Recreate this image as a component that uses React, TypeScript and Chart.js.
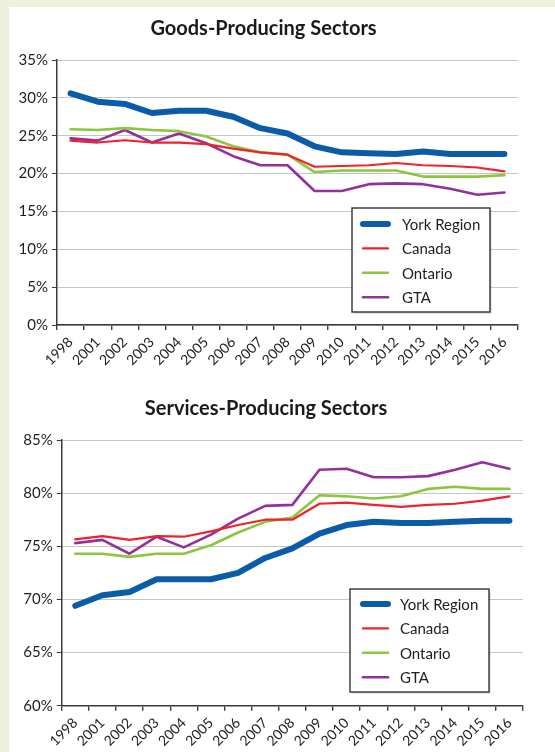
import React, { useEffect, useRef } from "react";
import { Chart, registerables } from "chart.js";

Chart.register(...registerables);

const years = ["1998", "2001", "2002", "2003", "2004", "2005", "2006", "2007", "2008", "2009", "2010", "2011", "2012", "2013", "2014", "2015", "2016"];
const seriesNames = ["York Region", "Canada", "Ontario", "GTA"];

const goodsYork = [30.6, 29.5, 29.2, 28.0, 28.3, 28.3, 27.5, 26.0, 25.3, 23.6, 22.8, 22.7, 22.6, 22.9, 22.6, 22.6, 22.6];
const goodsCanada = [24.35, 24.1, 24.4, 24.1, 24.1, 23.9, 23.3, 22.8, 22.5, 20.9, 21.0, 21.1, 21.4, 21.1, 21.0, 20.8, 20.3];
const goodsOntario = [25.85, 25.75, 26.0, 25.75, 25.6, 24.9, 23.6, 22.8, 22.5, 20.2, 20.4, 20.4, 20.4, 19.6, 19.6, 19.6, 19.8];
const goodsGTA = [24.65, 24.35, 25.75, 24.1, 25.3, 24.0, 22.3, 21.1, 21.1, 17.7, 17.7, 18.6, 18.7, 18.6, 18.0, 17.2, 17.5];

const servicesYork = [69.4, 70.4, 70.7, 71.9, 71.9, 71.9, 72.5, 73.9, 74.8, 76.2, 77.0, 77.3, 77.2, 77.2, 77.3, 77.4, 77.4];
const servicesCanada = [75.65, 75.95, 75.6, 75.95, 75.9, 76.4, 77.0, 77.5, 77.5, 79.0, 79.1, 78.9, 78.7, 78.9, 79.0, 79.3, 79.7];
const servicesOntario = [74.3, 74.3, 74.0, 74.3, 74.3, 75.1, 76.3, 77.3, 77.7, 79.8, 79.7, 79.5, 79.7, 80.4, 80.6, 80.4, 80.4];
const servicesGTA = [75.3, 75.6, 74.3, 75.9, 74.9, 76.1, 77.6, 78.8, 78.9, 82.2, 82.3, 81.5, 81.5, 81.6, 82.2, 82.9, 82.3];

const goodsTicks = [0, 5, 10, 15, 20, 25, 30, 35];
const servicesTicks = [60, 65, 70, 75, 80, 85];

const FONT = "Lato, 'Open Sans', sans-serif";
const colors = ["#0b5ca8", "#f2202a", "#8cc63f", "#93309e"];
const widths = [6, 2.2, 2.6, 2.6];

const boxLegend = {
  id: "boxLegend",
  afterDraw(chart: any, _args: any, opts: any) {
    if (!opts || !opts.box) return;
    const ctx = chart.ctx;
    const { x, y, w, h } = opts.box;
    ctx.save();
    ctx.fillStyle = "rgba(0,0,0,0.18)";
    ctx.fillRect(x + 1.5, y + 1.5, w, h);
    ctx.fillStyle = "#ffffff";
    ctx.fillRect(x, y, w, h);
    ctx.strokeStyle = "#333333";
    ctx.lineWidth = 1.4;
    ctx.strokeRect(x, y, w, h);
    chart.data.datasets.forEach((ds: any, i: number) => {
      const ry = y + opts.firstRow + i * opts.rowGap;
      ctx.strokeStyle = ds.borderColor;
      ctx.lineWidth = ds.borderWidth;
      ctx.lineCap = "round";
      ctx.beginPath();
      ctx.moveTo(x + opts.lineX0, ry);
      ctx.lineTo(x + opts.lineX1, ry);
      ctx.stroke();
      ctx.fillStyle = "#1e1e1e";
      ctx.font = `15px ${FONT}`;
      ctx.textBaseline = "middle";
      ctx.textAlign = "left";
      ctx.fillText(ds.label, x + opts.textX, ry + 1);
    });
    ctx.restore();
  },
};

function makeConfig(p: any) {
  return {
    type: "line",
    data: {
      labels: years,
      datasets: p.series.map((vals: number[], i: number) => ({
        label: seriesNames[i],
        data: vals,
        borderColor: colors[i],
        backgroundColor: colors[i],
        borderWidth: widths[i],
        pointRadius: 0,
        tension: 0,
        borderCapStyle: "round",
        borderJoinStyle: "round",
        fill: false,
      })),
    },
    options: {
      responsive: false,
      animation: false,
      layout: { padding: { left: 0, right: p.padRight, top: 0, bottom: 0 } },
      plugins: {
        legend: { display: false },
        tooltip: { enabled: false },
        title: {
          display: true,
          text: p.title,
          color: "#1a1a1a",
          font: { family: FONT, size: 20, weight: "bold", lineHeight: 1.2 },
          padding: { top: p.titleTop, bottom: p.titleBottom },
        },
        boxLegend: p.legend,
      },
      scales: {
        x: {
          type: "category",
          offset: true,
          grid: { display: true, offset: true, drawOnChartArea: false, drawTicks: true, tickLength: 5, tickColor: "#3a3a3a", lineWidth: 1.4 },
          border: { display: true, color: "#3a3a3a", width: 1.5 },
          ticks: { autoSkip: false, minRotation: 45, maxRotation: 45, padding: 4, color: "#1e1e1e", font: { family: FONT, size: 14 } },
          afterFit: (s: any) => { s.height = p.xHeight; },
        },
        y: {
          min: p.yTicks[0],
          max: p.yTicks[p.yTicks.length - 1],
          afterBuildTicks: (s: any) => { s.ticks = p.yTicks.map((v: number) => ({ value: v })); },
          grid: { color: "#c6c6c6", lineWidth: 1, drawTicks: true, tickLength: 5, tickColor: "#3a3a3a" },
          border: { display: true, color: "#3a3a3a", width: 1.5 },
          ticks: { padding: 4, color: "#1e1e1e", font: { family: FONT, size: 15 }, callback: (v: any) => `${v}%` },
          afterFit: (s: any) => { s.width = p.yWidth; },
        },
      },
    },
    plugins: [boxLegend],
  };
}

function LineChart({ p, left, top, width, height }: any) {
  const ref = useRef<HTMLCanvasElement | null>(null);
  useEffect(() => {
    if (!ref.current) return;
    const chart = new Chart(ref.current, makeConfig(p) as any);
    return () => chart.destroy();
  }, []);
  return (
    <canvas
      ref={ref}
      width={width}
      height={height}
      style={{ position: "absolute", left, top, width, height, display: "block" }}
    />
  );
}

const goodsParams = {
  title: "Goods-Producing Sectors",
  series: [goodsYork, goodsCanada, goodsOntario, goodsGTA],
  yTicks: goodsTicks,
  padRight: 3,
  titleTop: 9.5,
  titleBottom: 19.5,
  xHeight: 52,
  yWidth: 48,
  legend: { box: { x: 343, y: 201, w: 138, h: 104 }, firstRow: 16, rowGap: 24.4, lineX0: 11, lineX1: 36, textX: 50 },
};

const servicesParams = {
  title: "Services-Producing Sectors",
  series: [servicesYork, servicesCanada, servicesOntario, servicesGTA],
  yTicks: servicesTicks,
  padRight: 6,
  titleTop: 16.5,
  titleBottom: 19.5,
  xHeight: 46.3,
  yWidth: 52.7,
  legend: { box: { x: 341, y: 209, w: 139, h: 103 }, firstRow: 15, rowGap: 24.4, lineX0: 13, lineX1: 38, textX: 50 },
};

export default function App() {
  return (
    <div style={{ position: "fixed", left: 0, top: 0, width: 555, height: 752, background: "#edf1d9", overflow: "hidden" }}>
      <div style={{ position: "absolute", left: 9, top: 7, width: 546, height: 745, background: "#ffffff" }} />
      <LineChart p={goodsParams} left={9} top={7} width={512} height={370} />
      <LineChart p={servicesParams} left={9} top={380} width={520} height={372} />
    </div>
  );
}
